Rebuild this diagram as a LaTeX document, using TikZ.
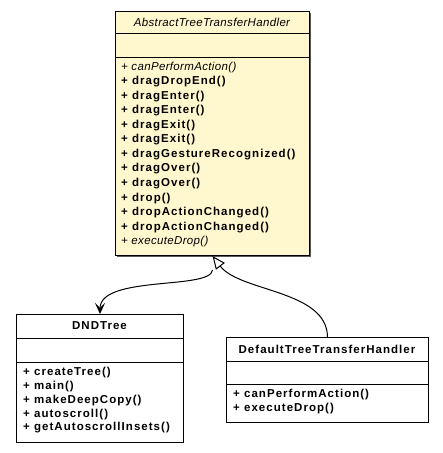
\documentclass[tikz,border=0pt]{standalone}
\usepackage{fontspec}
\setmainfont{Liberation Sans}
\newfontfamily\umlfont[LetterSpace=9]{Liberation Sans}
\newfontfamily\umlitfont[LetterSpace=3]{Liberation Sans}
\usetikzlibrary{arrows.meta}
\definecolor{abstractfill}{RGB}{255,248,206}
\tikzset{
  classbox/.style={draw, line width=1pt, inner sep=0pt, anchor=north west},
  member/.style={inner sep=0pt, anchor=west, font=\umlfont\fontsize{11.5}{13}\selectfont\bfseries},
  abstractmember/.style={inner sep=0pt, anchor=west, font=\umlitfont\fontsize{11.5}{13}\selectfont\itshape},
  classname/.style={inner sep=0pt, font=\umlfont\fontsize{11.5}{13}\selectfont\bfseries},
  abstractname/.style={inner sep=0pt, font=\umlitfont\fontsize{11.5}{13}\selectfont\itshape}
}
\begin{document}
\begin{tikzpicture}[x=1pt,y=-1pt]
    \useasboundingbox (0,0) rectangle (443,453);

        %AbstractTreeTransferHandler
        \fill[black!65] (117,13) rectangle (311,257);
        \node[classbox, fill=abstractfill, minimum width=194pt, minimum height=244pt] (abstract) at (115,11) {};
        \draw[line width=1pt] (115,33) -- (309,33);
        \draw[line width=1pt] (115,57) -- (309,57);
        \node[abstractname] (abstractTitle) at (212,22) {AbstractTreeTransferHandler};
        \node[abstractmember] (absM1) at (121,67.3) {+ canPerformAction()};
        \node[member] (absM2) at (121,81.8) {+ dragDropEnd()};
        \node[member] (absM3) at (121,96.4) {+ dragEnter()};
        \node[member] (absM4) at (121,110.9) {+ dragEnter()};
        \node[member] (absM5) at (121,125.4) {+ dragExit()};
        \node[member] (absM6) at (121,140.0) {+ dragExit()};
        \node[member] (absM7) at (121,154.5) {+ dragGestureRecognized()};
        \node[member] (absM8) at (121,169.0) {+ dragOver()};
        \node[member] (absM9) at (121,183.5) {+ dragOver()};
        \node[member] (absM10) at (121,198.1) {+ drop()};
        \node[member] (absM11) at (121,212.6) {+ dropActionChanged()};
        \node[member] (absM12) at (121,227.1) {+ dropActionChanged()};
        \node[abstractmember] (absM13) at (121,241.7) {+ executeDrop()};

        %DNDTree
        \node[classbox, fill=white, minimum width=167pt, minimum height=128pt] (dndtree) at (16,314) {};
        \draw[line width=1pt] (16,338) -- (183,338);
        \draw[line width=1pt] (16,362) -- (183,362);
        \node[classname] (dndtreeTitle) at (99.5,326) {DNDTree};
        \node[member] (dndM1) at (23,373) {+ createTree()};
        \node[member] (dndM2) at (23,386.7) {+ main()};
        \node[member] (dndM3) at (23,400.4) {+ makeDeepCopy()};
        \node[member] (dndM4) at (23,414.1) {+ autoscroll()};
        \node[member] (dndM5) at (23,427.8) {+ getAutoscrollInsets()};

        %DefaultTreeTransferHandler
        \node[classbox, fill=white, minimum width=202pt, minimum height=85pt] (default) at (226,337) {};
        \draw[line width=1pt] (226,361) -- (428,361);
        \draw[line width=1pt] (226,384) -- (428,384);
        \node[classname] (defaultTitle) at (327,349) {DefaultTreeTransferHandler};
        \node[member] (defM1) at (233,394.5) {+ canPerformAction()};
        \node[member] (defM2) at (233,408.2) {+ executeDrop()};

        \coordinate (generalization) at ([yshift=-14pt]abstract.south);
        \draw[line width=1pt, -{Triangle[open, length=13pt, width=11pt]}] (default.north) .. controls (327,290) and (240,292) .. (abstract.south);
        \draw[line width=1pt, -{Stealth[length=11pt, width=10pt, inset=5pt]}] (generalization) .. controls (211,290) and (100,275) .. (dndtree.north);
    \end{tikzpicture}
\end{document}
